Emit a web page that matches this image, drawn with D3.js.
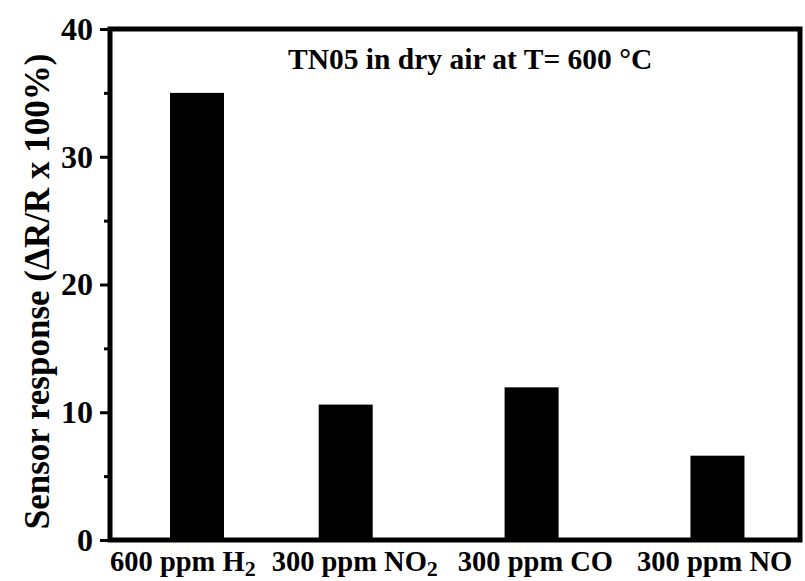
<!DOCTYPE html>
<html>
<head>
<meta charset="utf-8">
<script src="https://cdn.jsdelivr.net/npm/d3@7"></script>
<style>
  html, body { margin: 0; padding: 0; background: #fff; }
  svg { display: block; }
  text { font-family: "Liberation Serif", "Times New Roman", serif; font-weight: bold; fill: #000; }
</style>
</head>
<body>
<svg id="chart" width="805" height="581"></svg>
<script>
// Gas labels: main text and subscript part
const gasNames = ["600 ppm H", "300 ppm NO", "300 ppm CO", "300 ppm NO"];
const gasSubs = ["2", "2", "", ""];
// Bar positions along the x axis (sample index units)
const barPositions = [1, 1.8, 2.8, 3.8];
// Sensor response (%)
const responses = [35.0, 10.6, 11.95, 6.6];
// Y axis ticks
const majorTicks = [0, 10, 20, 30, 40];
const minorTicks = [5, 15, 25, 35];

const svg = d3.select("#chart");
const plotL = 110, plotR = 800, plotT = 29, plotB = 540;

const x = d3.scaleLinear().domain([0.532, 4.244]).range([plotL, plotR]);
const y = d3.scaleLinear().domain([0, 40]).range([plotB, plotT]);
const barW = 54;

// Bars
svg.append("g").selectAll("rect")
  .data(responses)
  .join("rect")
  .attr("x", (d, i) => x(barPositions[i]) - barW / 2)
  .attr("y", d => y(d))
  .attr("width", barW)
  .attr("height", d => y(0) - y(d))
  .attr("fill", "#000");

// Minor ticks
const minorAxis = d3.axisLeft(y).tickValues(minorTicks).tickSize(6).tickFormat("");
const gMinor = svg.append("g").attr("transform", `translate(${plotL},0)`).call(minorAxis);
gMinor.select(".domain").remove();
gMinor.selectAll(".tick line").attr("stroke", "#000").attr("stroke-width", 3);

// Major ticks and labels
const yAxis = d3.axisLeft(y).tickValues(majorTicks).tickSize(10).tickPadding(7).tickFormat(d3.format("d"));
const gY = svg.append("g").attr("transform", `translate(${plotL},0)`).call(yAxis);
gY.select(".domain").remove();
gY.selectAll(".tick line").attr("stroke", "#000").attr("stroke-width", 3);
gY.selectAll(".tick text")
  .style("font-family", '"Liberation Serif", "Times New Roman", serif')
  .style("font-weight", "bold")
  .style("font-size", "32px")
  .attr("fill", "#000");

// Frame
svg.append("rect")
  .attr("x", plotL).attr("y", plotT)
  .attr("width", plotR - plotL).attr("height", plotB - plotT)
  .attr("fill", "none").attr("stroke", "#000").attr("stroke-width", 5);

// Y axis title
svg.append("text")
  .attr("transform", `translate(49,${(plotT + plotB) / 2 + 7}) rotate(-90)`)
  .attr("text-anchor", "middle")
  .style("font-size", "35px")
  .text("Sensor response (\u0394R/R x 100%)");

// Chart title
svg.append("text")
  .attr("x", 288).attr("y", 69)
  .style("font-size", "29.5px")
  .text("TN05 in dry air at T= 600 \u00B0C");

// Category labels as one line beneath the axis
const gaps = [0, 16, 20, 24];
const lab = svg.append("text").attr("x", plotL).attr("y", 571).style("font-size", "28.5px");
gasNames.forEach((name, i) => {
  lab.append("tspan").attr("dx", gaps[i]).attr("dy", i > 0 && gasSubs[i - 1] ? -5 : 0).text(name);
  if (gasSubs[i]) {
    lab.append("tspan").attr("dy", 5).style("font-size", "22px").text(gasSubs[i]);
  }
});
</script>
</body>
</html>
